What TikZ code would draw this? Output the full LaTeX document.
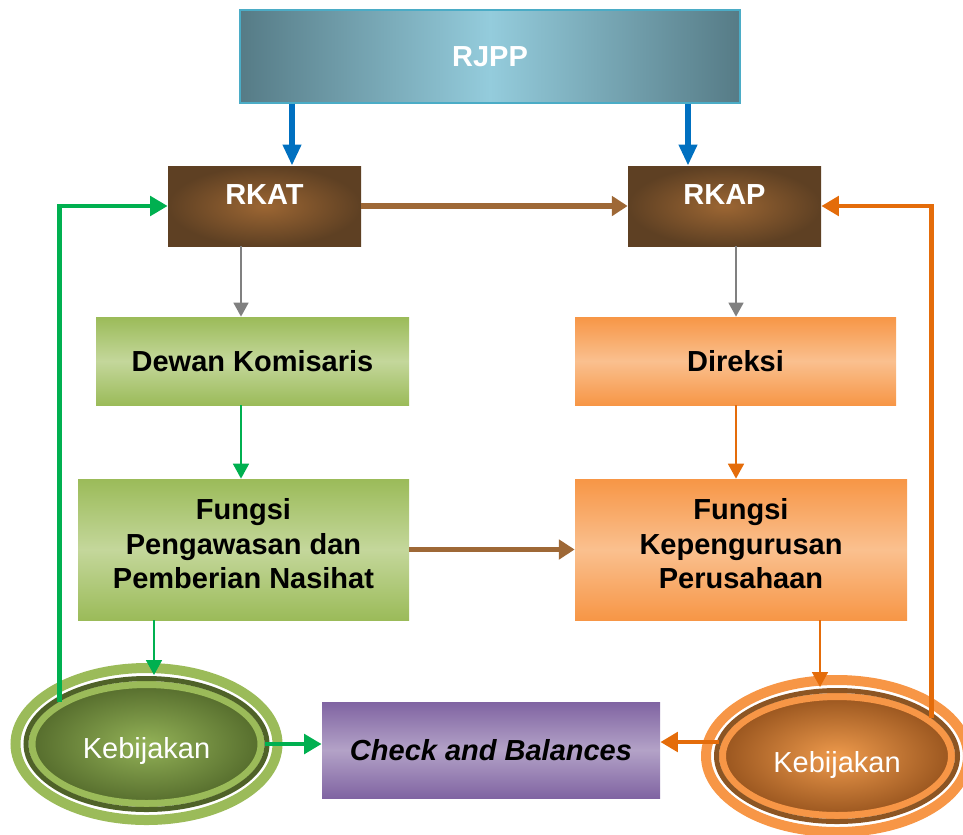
\documentclass[tikz,border=0pt]{standalone}
\usepackage{fontspec}
\setmainfont{Liberation Sans}
\usetikzlibrary{calc}
\usetikzlibrary{arrows.meta}
\usetikzlibrary{shapes.geometric}

\definecolor{rjppdark}{HTML}{567B86}
\definecolor{rjpplight}{HTML}{94CCDC}
\definecolor{rjppline}{HTML}{4BACC6}
\definecolor{rkdark}{HTML}{5E4023}
\definecolor{rklight}{HTML}{9C6633}
\definecolor{kgreen}{HTML}{9BBB59}
\definecolor{kgreenlight}{HTML}{C4D79B}
\definecolor{korange}{HTML}{F79646}
\definecolor{korangelight}{HTML}{FAC08F}
\definecolor{kpurple}{HTML}{8064A2}
\definecolor{kpurplelight}{HTML}{B3A2C7}
\definecolor{arrblue}{HTML}{0070C0}
\definecolor{arrbrown}{HTML}{9E6836}
\definecolor{arrgray}{HTML}{808080}
\definecolor{arrgreen}{HTML}{00B050}
\definecolor{arrorange}{HTML}{E46C0A}
\definecolor{olivering}{HTML}{4F6228}
\definecolor{olivefill}{HTML}{566D2D}
\definecolor{olivemid}{HTML}{93B257}
\definecolor{brownring}{HTML}{8C5523}
\definecolor{brownfill}{HTML}{9A561F}
\definecolor{brownmid}{HTML}{EE9A4C}

\tikzset{
  txt/.style={font=\fontsize{16.5}{19.8}\selectfont\bfseries, align=center, inner sep=0pt},
  rjppbox/.style={txt, text=white, draw=rjppline, line width=0.6pt, left color=rjppdark, right color=rjppdark, middle color=rjpplight, minimum width=10cm, minimum height=1.86cm},
  rkbox/.style={txt, text=white, inner color=rklight, outer color=rkdark, minimum width=3.86cm, minimum height=1.6cm, text height=0.76cm, text depth=0.84cm},
  greenbox/.style={txt, top color=kgreen, bottom color=kgreen, middle color=kgreenlight},
  orangebox/.style={txt, top color=korange, bottom color=korange, middle color=korangelight},
  checkbox/.style={txt, top color=kpurple, bottom color=kpurple, middle color=kpurplelight, minimum width=6.76cm, minimum height=1.92cm},
  kebgreen/.style={ellipse, inner sep=0pt, minimum width=4.58cm, minimum height=2.38cm, line width=0.14cm, draw=kgreen, inner color=olivemid, outer color=olivefill, text=white, text height=0.7cm, font=\fontsize{16.5}{19.8}\selectfont},
  keborange/.style={ellipse, inner sep=0pt, minimum width=4.58cm, minimum height=2.38cm, line width=0.14cm, draw=korange, inner color=brownmid, outer color=brownfill, text=white, text height=0.76cm, font=\fontsize{16.5}{19.8}\selectfont},
  bluearr/.style={arrblue, line width=3pt, -{Triangle[length=12pt,width=10pt]}},
  brownarr/.style={arrbrown, line width=3.2pt, -{Triangle[length=9pt,width=11pt]}},
  grayarr/.style={arrgray, line width=1.1pt, -{Triangle[length=8pt,width=8.5pt]}},
  greenthin/.style={arrgreen, line width=1.2pt, -{Triangle[length=8.5pt,width=9pt]}},
  orangethin/.style={arrorange, line width=1.2pt, -{Triangle[length=8.5pt,width=9pt]}},
  greenthick/.style={arrgreen, line width=2.8pt, -{Triangle[length=10pt,width=11pt]}},
  orangethick/.style={arrorange, line width=2.8pt, -{Triangle[length=10pt,width=11pt]}}
}

\begin{document}
\begin{tikzpicture}
\useasboundingbox (0,0) rectangle (19.26,-16.68);

\node[rjppbox] (rjpp) at (9.8,-1.13) {RJPP};
\node[rkbox] (rkat) at (5.29,-4.12) {RKAT};
\node[rkbox] (rkap) at (14.49,-4.12) {RKAP};

\node[greenbox, minimum width=6.26cm, minimum height=1.76cm] (dewan) at (5.05,-7.22) {Dewan Komisaris};
\node[orangebox, minimum width=6.42cm, minimum height=1.76cm] (direksi) at (14.71,-7.22) {Direksi};
\node[greenbox, minimum width=6.62cm, minimum height=2.82cm, text depth=0.24cm] (fpa) at (4.87,-10.99) {Fungsi\\Pengawasan dan\\Pemberian Nasihat};
\node[orangebox, minimum width=6.64cm, minimum height=2.82cm, text depth=0.24cm] (fkp) at (14.82,-10.99) {Fungsi\\Kepengurusan\\Perusahaan};

\node[checkbox] (check) at (9.82,-15.0) {\itshape Check and Balances};

\node[kebgreen] (kebL) at (2.93,-14.88) {Kebijakan};
\draw[olivering, line width=0.1cm] (kebL.center) ellipse [x radius=2.41cm, y radius=1.31cm];
\draw[kgreen, line width=0.2cm] (kebL.center) ellipse [x radius=2.62cm, y radius=1.52cm];

\node[keborange] (kebR) at (16.74,-15.12) {Kebijakan};
\draw[brownring, line width=0.1cm] (kebR.center) ellipse [x radius=2.41cm, y radius=1.31cm];
\draw[korange, line width=0.2cm] (kebR.center) ellipse [x radius=2.62cm, y radius=1.52cm];

\draw[bluearr] (rjpp.south -| 5.84,0) -- (rkat.north -| 5.84,0);
\draw[bluearr] (rjpp.south -| 13.76,0) -- (rkap.north -| 13.76,0);
\draw[brownarr] (rkat.east) -- (rkap.west);

\draw[grayarr] (rkat.south -| 4.82,0) -- (dewan.north -| 4.82,0);
\draw[grayarr] (rkap.south -| 14.72,0) -- (direksi.north -| 14.72,0);
\draw[greenthin] (dewan.south -| 4.82,0) -- (fpa.north -| 4.82,0);
\draw[orangethin] (direksi.south -| 14.72,0) -- (fkp.north -| 14.72,0);
\draw[brownarr] (fpa.east) -- (fkp.west);

\draw[greenthin] (fpa.south -| 3.08,0) -- ([yshift=0.12cm]kebL.north -| 3.08,0);
\draw[orangethin] (fkp.south -| 16.4,0) -- ([yshift=0.12cm]kebR.north -| 16.4,0);

\draw[greenthick] (kebL.east) -- (kebL.east -| check.west);
\draw[orangethick] ([yshift=0.28cm]kebR.west) -- ([yshift=0.28cm]kebR.west -| check.east);

\draw[greenthick] (kebL.154) |- (rkat.west);
\draw[orangethick] (kebR.22) |- (rkap.east);
\end{tikzpicture}
\end{document}
